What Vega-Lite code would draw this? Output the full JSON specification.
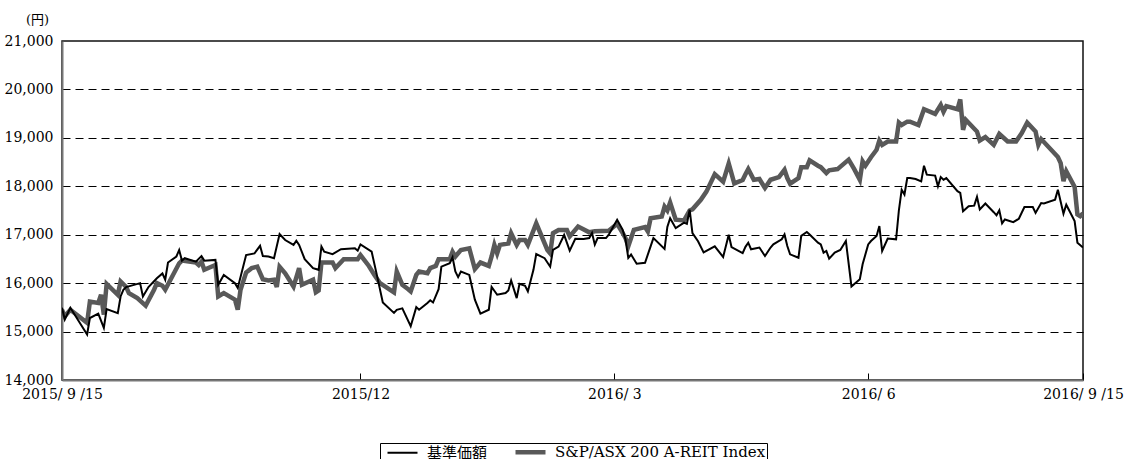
{
  "$schema": "https://vega.github.io/schema/vega-lite/v6.json",
  "width": 1021,
  "height": 339,
  "autosize": {"type": "none"},
  "padding": {"left": 62, "top": 41, "right": 42, "bottom": 79},
  "background": "white",
  "config": {
    "font": "DejaVu Serif",
    "view": {"stroke": "#111111", "strokeWidth": 1.5}
  },
  "datasets": {
    "nav": [
      {"date": "2015-09-15", "value": 15490}, {"date": "2015-09-16", "value": 15250}, {"date": "2015-09-18", "value": 15490},
      {"date": "2015-09-24", "value": 14940}, {"date": "2015-09-25", "value": 15280}, {"date": "2015-09-28", "value": 15370},
      {"date": "2015-09-30", "value": 15075}, {"date": "2015-10-01", "value": 15465}, {"date": "2015-10-05", "value": 15380},
      {"date": "2015-10-06", "value": 15725}, {"date": "2015-10-07", "value": 15860}, {"date": "2015-10-08", "value": 15920},
      {"date": "2015-10-13", "value": 16000}, {"date": "2015-10-14", "value": 15725}, {"date": "2015-10-16", "value": 15920},
      {"date": "2015-10-19", "value": 16100}, {"date": "2015-10-21", "value": 16200}, {"date": "2015-10-22", "value": 16070},
      {"date": "2015-10-23", "value": 16425}, {"date": "2015-10-26", "value": 16550}, {"date": "2015-10-27", "value": 16685},
      {"date": "2015-10-28", "value": 16465}, {"date": "2015-10-29", "value": 16515}, {"date": "2015-11-02", "value": 16445},
      {"date": "2015-11-04", "value": 16560}, {"date": "2015-11-05", "value": 16465}, {"date": "2015-11-09", "value": 16480},
      {"date": "2015-11-10", "value": 15965}, {"date": "2015-11-12", "value": 16170}, {"date": "2015-11-16", "value": 16000},
      {"date": "2015-11-17", "value": 15900}, {"date": "2015-11-20", "value": 16580}, {"date": "2015-11-23", "value": 16615},
      {"date": "2015-11-25", "value": 16770}, {"date": "2015-11-26", "value": 16560}, {"date": "2015-11-28", "value": 16550},
      {"date": "2015-11-30", "value": 16515}, {"date": "2015-12-02", "value": 17015}, {"date": "2015-12-04", "value": 16890},
      {"date": "2015-12-07", "value": 16790}, {"date": "2015-12-08", "value": 16875}, {"date": "2015-12-09", "value": 16790},
      {"date": "2015-12-11", "value": 16495}, {"date": "2015-12-14", "value": 16310}, {"date": "2015-12-16", "value": 16275},
      {"date": "2015-12-17", "value": 16755}, {"date": "2015-12-18", "value": 16650}, {"date": "2015-12-21", "value": 16600},
      {"date": "2015-12-24", "value": 16700}, {"date": "2015-12-29", "value": 16720}, {"date": "2015-12-30", "value": 16670},
      {"date": "2015-12-31", "value": 16800}, {"date": "2016-01-04", "value": 16650}, {"date": "2016-01-06", "value": 16135},
      {"date": "2016-01-08", "value": 15600}, {"date": "2016-01-12", "value": 15385}, {"date": "2016-01-13", "value": 15450},
      {"date": "2016-01-15", "value": 15480}, {"date": "2016-01-18", "value": 15110}, {"date": "2016-01-20", "value": 15505},
      {"date": "2016-01-21", "value": 15450}, {"date": "2016-01-24", "value": 15590}, {"date": "2016-01-25", "value": 15645},
      {"date": "2016-01-26", "value": 15600}, {"date": "2016-01-28", "value": 15875}, {"date": "2016-01-29", "value": 16340},
      {"date": "2016-02-01", "value": 16410}, {"date": "2016-02-02", "value": 16535}, {"date": "2016-02-03", "value": 16240},
      {"date": "2016-02-04", "value": 16125}, {"date": "2016-02-05", "value": 16240}, {"date": "2016-02-08", "value": 16170},
      {"date": "2016-02-10", "value": 15660}, {"date": "2016-02-12", "value": 15370}, {"date": "2016-02-15", "value": 15450},
      {"date": "2016-02-16", "value": 15920}, {"date": "2016-02-18", "value": 15760}, {"date": "2016-02-21", "value": 15795},
      {"date": "2016-02-22", "value": 15850}, {"date": "2016-02-23", "value": 16055}, {"date": "2016-02-25", "value": 15690},
      {"date": "2016-02-26", "value": 15985}, {"date": "2016-02-28", "value": 15945}, {"date": "2016-02-29", "value": 15830},
      {"date": "2016-03-02", "value": 16275}, {"date": "2016-03-03", "value": 16600}, {"date": "2016-03-06", "value": 16515},
      {"date": "2016-03-08", "value": 16340}, {"date": "2016-03-09", "value": 16685}, {"date": "2016-03-11", "value": 16755},
      {"date": "2016-03-13", "value": 16995}, {"date": "2016-03-15", "value": 16670}, {"date": "2016-03-17", "value": 16915},
      {"date": "2016-03-20", "value": 16910}, {"date": "2016-03-22", "value": 16930}, {"date": "2016-03-23", "value": 17035},
      {"date": "2016-03-24", "value": 16795}, {"date": "2016-03-25", "value": 16930}, {"date": "2016-03-28", "value": 16930},
      {"date": "2016-03-29", "value": 17000}, {"date": "2016-04-01", "value": 17310}, {"date": "2016-04-03", "value": 17100},
      {"date": "2016-04-04", "value": 16900}, {"date": "2016-04-05", "value": 16520}, {"date": "2016-04-06", "value": 16590},
      {"date": "2016-04-08", "value": 16400}, {"date": "2016-04-11", "value": 16420}, {"date": "2016-04-13", "value": 16760},
      {"date": "2016-04-14", "value": 16930}, {"date": "2016-04-18", "value": 16705}, {"date": "2016-04-19", "value": 17160},
      {"date": "2016-04-20", "value": 17340}, {"date": "2016-04-22", "value": 17135}, {"date": "2016-04-25", "value": 17250},
      {"date": "2016-04-26", "value": 17225}, {"date": "2016-04-27", "value": 17515}, {"date": "2016-04-28", "value": 17035},
      {"date": "2016-04-30", "value": 16865}, {"date": "2016-05-02", "value": 16635}, {"date": "2016-05-06", "value": 16760},
      {"date": "2016-05-09", "value": 16540}, {"date": "2016-05-11", "value": 17000}, {"date": "2016-05-12", "value": 16745},
      {"date": "2016-05-16", "value": 16620}, {"date": "2016-05-17", "value": 16750}, {"date": "2016-05-18", "value": 16835},
      {"date": "2016-05-19", "value": 16700}, {"date": "2016-05-22", "value": 16735}, {"date": "2016-05-24", "value": 16560},
      {"date": "2016-05-26", "value": 16735}, {"date": "2016-05-27", "value": 16800}, {"date": "2016-05-30", "value": 16905},
      {"date": "2016-05-31", "value": 17005}, {"date": "2016-06-01", "value": 16765}, {"date": "2016-06-02", "value": 16595},
      {"date": "2016-06-05", "value": 16525}, {"date": "2016-06-06", "value": 16975}, {"date": "2016-06-08", "value": 17055},
      {"date": "2016-06-09", "value": 17005}, {"date": "2016-06-12", "value": 16835}, {"date": "2016-06-13", "value": 16800},
      {"date": "2016-06-14", "value": 16630}, {"date": "2016-06-15", "value": 16665}, {"date": "2016-06-16", "value": 16505},
      {"date": "2016-06-18", "value": 16630}, {"date": "2016-06-20", "value": 16685}, {"date": "2016-06-22", "value": 16870},
      {"date": "2016-06-24", "value": 15930}, {"date": "2016-06-27", "value": 16080}, {"date": "2016-06-28", "value": 16390},
      {"date": "2016-06-30", "value": 16800}, {"date": "2016-07-01", "value": 16870}, {"date": "2016-07-03", "value": 16975},
      {"date": "2016-07-04", "value": 17180}, {"date": "2016-07-05", "value": 16665}, {"date": "2016-07-07", "value": 16920},
      {"date": "2016-07-10", "value": 16905}, {"date": "2016-07-11", "value": 17505}, {"date": "2016-07-12", "value": 17930},
      {"date": "2016-07-13", "value": 17830}, {"date": "2016-07-14", "value": 18170}, {"date": "2016-07-15", "value": 18170},
      {"date": "2016-07-17", "value": 18150}, {"date": "2016-07-19", "value": 18100}, {"date": "2016-07-20", "value": 18425},
      {"date": "2016-07-21", "value": 18240}, {"date": "2016-07-24", "value": 18220}, {"date": "2016-07-25", "value": 18000},
      {"date": "2016-07-26", "value": 18190}, {"date": "2016-07-27", "value": 18135}, {"date": "2016-07-28", "value": 18170},
      {"date": "2016-08-01", "value": 17900}, {"date": "2016-08-02", "value": 17865}, {"date": "2016-08-03", "value": 17485},
      {"date": "2016-08-05", "value": 17590}, {"date": "2016-08-07", "value": 17600}, {"date": "2016-08-08", "value": 17780},
      {"date": "2016-08-09", "value": 17520}, {"date": "2016-08-11", "value": 17645}, {"date": "2016-08-14", "value": 17465},
      {"date": "2016-08-15", "value": 17400}, {"date": "2016-08-16", "value": 17505}, {"date": "2016-08-17", "value": 17235},
      {"date": "2016-08-18", "value": 17315}, {"date": "2016-08-21", "value": 17260}, {"date": "2016-08-23", "value": 17330},
      {"date": "2016-08-25", "value": 17570}, {"date": "2016-08-28", "value": 17570}, {"date": "2016-08-29", "value": 17450},
      {"date": "2016-08-31", "value": 17655}, {"date": "2016-09-01", "value": 17645}, {"date": "2016-09-05", "value": 17725},
      {"date": "2016-09-06", "value": 17930}, {"date": "2016-09-08", "value": 17435}, {"date": "2016-09-09", "value": 17620},
      {"date": "2016-09-12", "value": 17280}, {"date": "2016-09-13", "value": 16835}, {"date": "2016-09-15", "value": 16735}
    ],
    "reit": [
      {"date": "2015-09-15", "value": 15450}, {"date": "2015-09-16", "value": 15315}, {"date": "2015-09-18", "value": 15450},
      {"date": "2015-09-24", "value": 15180}, {"date": "2015-09-25", "value": 15620}, {"date": "2015-09-28", "value": 15590},
      {"date": "2015-09-29", "value": 15760}, {"date": "2015-09-30", "value": 15350}, {"date": "2015-10-01", "value": 15985},
      {"date": "2015-10-05", "value": 15760}, {"date": "2015-10-06", "value": 16035}, {"date": "2015-10-08", "value": 15920},
      {"date": "2015-10-09", "value": 15795}, {"date": "2015-10-12", "value": 15690}, {"date": "2015-10-15", "value": 15535},
      {"date": "2015-10-18", "value": 15865}, {"date": "2015-10-19", "value": 16000}, {"date": "2015-10-21", "value": 15945},
      {"date": "2015-10-22", "value": 15865}, {"date": "2015-10-27", "value": 16410}, {"date": "2015-10-28", "value": 16465},
      {"date": "2015-11-02", "value": 16425}, {"date": "2015-11-03", "value": 16375}, {"date": "2015-11-04", "value": 16445},
      {"date": "2015-11-05", "value": 16275}, {"date": "2015-11-09", "value": 16375}, {"date": "2015-11-10", "value": 15725},
      {"date": "2015-11-12", "value": 15795}, {"date": "2015-11-16", "value": 15660}, {"date": "2015-11-17", "value": 15450},
      {"date": "2015-11-18", "value": 15865}, {"date": "2015-11-20", "value": 16220}, {"date": "2015-11-22", "value": 16310},
      {"date": "2015-11-24", "value": 16340}, {"date": "2015-11-26", "value": 16080}, {"date": "2015-11-28", "value": 16055},
      {"date": "2015-11-30", "value": 16070}, {"date": "2015-12-01", "value": 15920}, {"date": "2015-12-02", "value": 16340},
      {"date": "2015-12-04", "value": 16205}, {"date": "2015-12-07", "value": 15930}, {"date": "2015-12-09", "value": 16310},
      {"date": "2015-12-10", "value": 15965}, {"date": "2015-12-14", "value": 16070}, {"date": "2015-12-15", "value": 15810},
      {"date": "2015-12-16", "value": 15850}, {"date": "2015-12-17", "value": 16425}, {"date": "2015-12-21", "value": 16425},
      {"date": "2015-12-22", "value": 16310}, {"date": "2015-12-25", "value": 16495}, {"date": "2015-12-30", "value": 16495},
      {"date": "2015-12-31", "value": 16580}, {"date": "2016-01-03", "value": 16355}, {"date": "2016-01-05", "value": 16170},
      {"date": "2016-01-07", "value": 16000}, {"date": "2016-01-12", "value": 15810}, {"date": "2016-01-13", "value": 16240},
      {"date": "2016-01-15", "value": 15965}, {"date": "2016-01-17", "value": 15880}, {"date": "2016-01-18", "value": 15830},
      {"date": "2016-01-20", "value": 16170}, {"date": "2016-01-21", "value": 16240}, {"date": "2016-01-24", "value": 16205},
      {"date": "2016-01-25", "value": 16310}, {"date": "2016-01-27", "value": 16355}, {"date": "2016-01-28", "value": 16495},
      {"date": "2016-02-01", "value": 16495}, {"date": "2016-02-02", "value": 16650}, {"date": "2016-02-03", "value": 16550},
      {"date": "2016-02-05", "value": 16685}, {"date": "2016-02-08", "value": 16720}, {"date": "2016-02-10", "value": 16290},
      {"date": "2016-02-12", "value": 16425}, {"date": "2016-02-15", "value": 16355}, {"date": "2016-02-16", "value": 16550},
      {"date": "2016-02-17", "value": 16790}, {"date": "2016-02-18", "value": 16615}, {"date": "2016-02-19", "value": 16790},
      {"date": "2016-02-22", "value": 16820}, {"date": "2016-02-23", "value": 17030}, {"date": "2016-02-25", "value": 16790},
      {"date": "2016-02-26", "value": 16890}, {"date": "2016-02-28", "value": 16890}, {"date": "2016-02-29", "value": 16790},
      {"date": "2016-03-03", "value": 17235}, {"date": "2016-03-07", "value": 16685}, {"date": "2016-03-08", "value": 16615},
      {"date": "2016-03-09", "value": 17030}, {"date": "2016-03-11", "value": 17095}, {"date": "2016-03-14", "value": 17095},
      {"date": "2016-03-15", "value": 16965}, {"date": "2016-03-18", "value": 17170}, {"date": "2016-03-22", "value": 17050},
      {"date": "2016-03-24", "value": 17070}, {"date": "2016-03-29", "value": 17080}, {"date": "2016-04-01", "value": 17225},
      {"date": "2016-04-03", "value": 17035}, {"date": "2016-04-04", "value": 16930}, {"date": "2016-04-05", "value": 16760},
      {"date": "2016-04-07", "value": 17100}, {"date": "2016-04-11", "value": 17160}, {"date": "2016-04-12", "value": 17070},
      {"date": "2016-04-13", "value": 17340}, {"date": "2016-04-17", "value": 17375}, {"date": "2016-04-18", "value": 17580},
      {"date": "2016-04-19", "value": 17500}, {"date": "2016-04-20", "value": 17665}, {"date": "2016-04-22", "value": 17310},
      {"date": "2016-04-25", "value": 17295}, {"date": "2016-04-27", "value": 17500}, {"date": "2016-04-28", "value": 17525},
      {"date": "2016-05-01", "value": 17720}, {"date": "2016-05-03", "value": 17890}, {"date": "2016-05-06", "value": 18250},
      {"date": "2016-05-09", "value": 18095}, {"date": "2016-05-11", "value": 18470}, {"date": "2016-05-13", "value": 18060},
      {"date": "2016-05-16", "value": 18130}, {"date": "2016-05-17", "value": 18250}, {"date": "2016-05-18", "value": 18355},
      {"date": "2016-05-20", "value": 18135}, {"date": "2016-05-22", "value": 18150}, {"date": "2016-05-24", "value": 17965},
      {"date": "2016-05-26", "value": 18135}, {"date": "2016-05-29", "value": 18190}, {"date": "2016-05-31", "value": 18340},
      {"date": "2016-06-01", "value": 18170}, {"date": "2016-06-02", "value": 18055}, {"date": "2016-06-05", "value": 18170},
      {"date": "2016-06-06", "value": 18395}, {"date": "2016-06-08", "value": 18395}, {"date": "2016-06-09", "value": 18535},
      {"date": "2016-06-12", "value": 18425}, {"date": "2016-06-13", "value": 18395}, {"date": "2016-06-15", "value": 18275},
      {"date": "2016-06-16", "value": 18330}, {"date": "2016-06-19", "value": 18355}, {"date": "2016-06-23", "value": 18550},
      {"date": "2016-06-25", "value": 18355}, {"date": "2016-06-27", "value": 18135}, {"date": "2016-06-28", "value": 18515},
      {"date": "2016-06-29", "value": 18425}, {"date": "2016-07-01", "value": 18600}, {"date": "2016-07-03", "value": 18755},
      {"date": "2016-07-04", "value": 18945}, {"date": "2016-07-05", "value": 18855}, {"date": "2016-07-07", "value": 18925},
      {"date": "2016-07-10", "value": 18925}, {"date": "2016-07-11", "value": 19315}, {"date": "2016-07-12", "value": 19265},
      {"date": "2016-07-14", "value": 19335}, {"date": "2016-07-15", "value": 19335}, {"date": "2016-07-18", "value": 19265},
      {"date": "2016-07-20", "value": 19590}, {"date": "2016-07-24", "value": 19495}, {"date": "2016-07-26", "value": 19680},
      {"date": "2016-07-27", "value": 19540}, {"date": "2016-07-28", "value": 19655}, {"date": "2016-08-01", "value": 19590},
      {"date": "2016-08-02", "value": 19795}, {"date": "2016-08-03", "value": 19165}, {"date": "2016-08-04", "value": 19370},
      {"date": "2016-08-08", "value": 19130}, {"date": "2016-08-09", "value": 18945}, {"date": "2016-08-11", "value": 19015},
      {"date": "2016-08-14", "value": 18855}, {"date": "2016-08-16", "value": 19080}, {"date": "2016-08-19", "value": 18925},
      {"date": "2016-08-22", "value": 18925}, {"date": "2016-08-24", "value": 19095}, {"date": "2016-08-26", "value": 19315},
      {"date": "2016-08-29", "value": 19130}, {"date": "2016-08-30", "value": 18855}, {"date": "2016-08-31", "value": 18975},
      {"date": "2016-09-06", "value": 18605}, {"date": "2016-09-07", "value": 18480}, {"date": "2016-09-08", "value": 18105},
      {"date": "2016-09-09", "value": 18310}, {"date": "2016-09-12", "value": 17985}, {"date": "2016-09-13", "value": 17420},
      {"date": "2016-09-14", "value": 17385}, {"date": "2016-09-15", "value": 17440}
    ]
  },
  "layer": [
    {
      "data": {"name": "reit"},
      "mark": {"type": "line", "strokeWidth": 4.5, "strokeJoin": "miter", "clip": true},
      "encoding": {
        "x": {
          "field": "date",
          "type": "temporal",
          "scale": {
            "type": "utc",
            "domain": [{"year": 2015, "month": 9, "date": 15, "utc": true}, {"year": 2016, "month": 9, "date": 15, "utc": true}],
            "nice": false
          },
          "axis": {
            "title": null,
            "values": [
              {"year": 2015, "month": 9, "date": 15, "utc": true},
              {"year": 2015, "month": 12, "date": 31, "utc": true},
              {"year": 2016, "month": 3, "date": 31, "utc": true},
              {"year": 2016, "month": 6, "date": 30, "utc": true},
              {"year": 2016, "month": 9, "date": 15, "utc": true}
            ],
            "labelExpr": "utcmonth(datum.value)==8 ? utcyear(datum.value) + '/ 9 /15' : utcmonth(datum.value)==11 ? '2015/12' : utcmonth(datum.value)==2 ? '2016/ 3' : '2016/ 6'",
            "grid": false,
            "domainColor": "#777777",
            "domainWidth": 2,
            "tickColor": "#000000",
            "tickWidth": 1,
            "tickSize": -7,
            "labelFont": "DejaVu Serif",
            "labelFontSize": 14,
            "labelColor": "#000000",
            "labelPadding": 14,
            "labelFlush": false,
            "labelOverlap": false
          }
        },
        "y": {
          "field": "value",
          "type": "quantitative",
          "scale": {"domain": [14000, 21000], "nice": false, "zero": false},
          "axis": {
            "title": "(円)",
            "titleAngle": 0,
            "titleX": -25,
            "titleY": -22,
            "titleAlign": "center",
            "titleBaseline": "middle",
            "titleFont": "DejaVu Serif, Noto Sans CJK JP",
            "titleFontSize": 13,
            "titleFontWeight": "normal",
            "titleColor": "#000000",
            "values": [14000, 15000, 16000, 17000, 18000, 19000, 20000, 21000],
            "format": ",d",
            "ticks": false,
            "labelPadding": 9,
            "labelFont": "DejaVu Serif",
            "labelFontSize": 14,
            "labelColor": "#000000",
            "domainColor": "#777777",
            "domainWidth": 2,
            "grid": true,
            "gridColor": "#000000",
            "gridDash": [8, 5],
            "gridWidth": 1,
            "gridOpacity": {"condition": {"test": "datum.value == 14000 || datum.value == 21000", "value": 0}, "value": 1}
          }
        },
        "color": {
          "datum": "S&P/ASX 200 A-REIT Index",
          "type": "nominal",
          "scale": {"domain": ["基準価額", "S&P/ASX 200 A-REIT Index"], "range": ["#000000", "#595959"]},
          "legend": {
            "orient": "none",
            "legendX": 318,
            "legendY": 402,
            "direction": "horizontal",
            "title": null,
            "strokeColor": "#000000",
            "padding": 1.5,
            "symbolType": "M-2,0H2",
            "symbolSize": 225,
            "symbolStrokeWidth": 2,
            "symbolOffset": 13.5,
            "labelFont": "DejaVu Serif, Noto Sans CJK JP",
            "labelFontSize": 15,
            "labelLimit": 400,
            "labelColor": "#000000",
            "labelOffset": 17,
            "columnPadding": 19,
            "encode": {"symbols": {"update": {"strokeWidth": {"signal": "datum.value == '基準価額' ? 2 : 4.5"}}}}
          }
        }
      }
    },
    {
      "data": {"name": "nav"},
      "mark": {"type": "line", "strokeWidth": 2, "strokeJoin": "miter", "clip": true},
      "encoding": {
        "x": {"field": "date", "type": "temporal"},
        "y": {"field": "value", "type": "quantitative"},
        "color": {"datum": "基準価額", "type": "nominal"}
      }
    }
  ]
}
